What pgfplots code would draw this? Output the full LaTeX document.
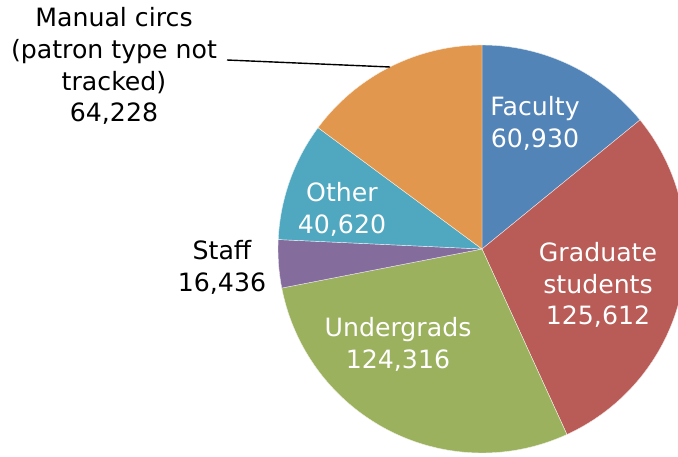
\documentclass[border=0pt]{standalone}
\usepackage{pgfplots}
\usepackage{pgfplotstable}
\pgfplotsset{compat=1.18}
\usepackage{fontspec}
\setmainfont{DejaVu Sans}

\definecolor{c0}{HTML}{5384B8}
\definecolor{c1}{HTML}{B95B56}
\definecolor{c2}{HTML}{9BB15E}
\definecolor{c3}{HTML}{846C9D}
\definecolor{c4}{HTML}{50A8C0}
\definecolor{c5}{HTML}{E1974E}

\pgfplotstableread{
value
60930
125612
124316
16436
40620
64228
}\piedata

\tikzset{lbl/.style={font=\fontsize{25.3}{32}\selectfont, align=center, inner sep=0pt}}

\begin{document}
\begin{tikzpicture}
% cumulative angles from the data (start at 90 deg, clockwise)
\gdef\total{0}
\pgfplotsforeachungrouped \i in {0,...,5}{%
  \pgfplotstablegetelem{\i}{value}\of\piedata
  \xdef\total{\fpeval{\total+\pgfplotsretval}}%
}
\gdef\cur{90}
\pgfplotsforeachungrouped \i in {0,...,5}{%
  \pgfplotstablegetelem{\i}{value}\of\piedata
  \expandafter\xdef\csname sa\i\endcsname{\cur}%
  \xdef\cur{\fpeval{round(\cur-360*\pgfplotsretval/\total,4)}}%
  \expandafter\xdef\csname ea\i\endcsname{\cur}%
}
\begin{axis}[hide axis, scale only axis, width=678bp, height=457bp,
  xmin=0, xmax=678, ymin=0, ymax=457, y dir=reverse, clip=true]
\pgfplotsinvokeforeach{0,...,5}{
  \filldraw[fill=c#1, draw=white!85!c#1, line width=0.4bp]
    (axis cs:482,249) -- ++(\csname sa#1\endcsname:204bp)
    arc[start angle=\csname sa#1\endcsname, end angle=\csname ea#1\endcsname, radius=204bp] -- cycle;
}
\draw[black, line width=1.4bp] (axis cs:227,60) -- (axis cs:390,67);
\node[lbl, text=white] at (axis cs:535,123) {Faculty\\60,930};
\node[lbl, text=white] at (axis cs:598,285) {Graduate\\students\\125,612};
\node[lbl, text=white] at (axis cs:398,344) {Undergrads\\124,316};
\node[lbl, text=white] at (axis cs:342,209) {Other\\40,620};
\node[lbl, text=black] at (axis cs:222,267) {Staff\\16,436};
\node[lbl, text=black] at (axis cs:114,66) {Manual circs\\(patron type not\\tracked)\\64,228};
\end{axis}
\pgfresetboundingbox
\useasboundingbox (0,0) rectangle (678bp,457bp);
\end{tikzpicture}
\end{document}
